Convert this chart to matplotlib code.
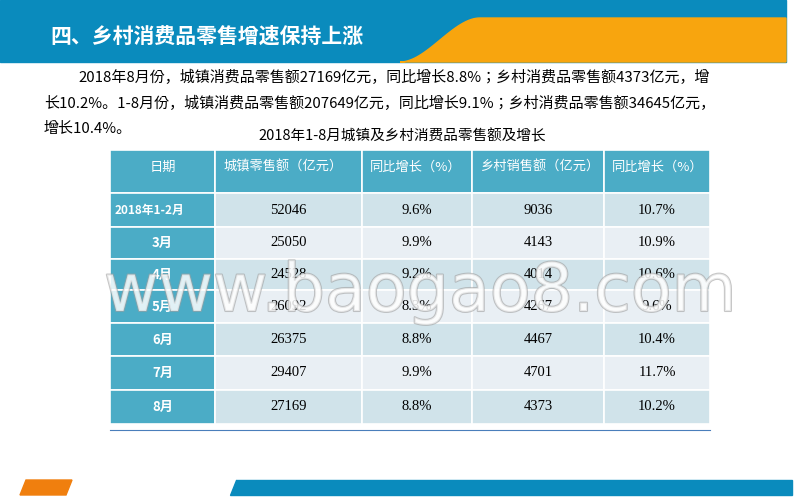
import matplotlib
matplotlib.use("Agg")
import matplotlib.pyplot as plt
from matplotlib.patches import Rectangle, Polygon
import matplotlib.patheffects as pe
import numpy as np

plt.rcParams['font.family'] = 'sans-serif'
plt.rcParams['font.sans-serif'] = ['Noto Sans CJK SC', 'Noto Sans CJK JP', 'Noto Sans CJK TC', 'DejaVu Sans']

title = "四、乡村消费品零售增速保持上涨"
para = ["2018年8月份，城镇消费品零售额27169亿元，同比增长8.8%；乡村消费品零售额4373亿元，增",
        "长10.2%。1-8月份，城镇消费品零售额207649亿元，同比增长9.1%；乡村消费品零售额34645亿元，",
        "增长10.4%。"]
table_title = "2018年1-8月城镇及乡村消费品零售额及增长"
headers = ["日期", "城镇零售额（亿元）", "同比增长（%）", "乡村销售额（亿元）", "同比增长（%）"]
periods = ["2018年1-2月", "3月", "4月", "5月", "6月", "7月", "8月"]
urban = [52046, 25050, 24528, 26092, 26375, 29407, 27169]
urban_growth = [9.6, 9.9, 9.2, 8.3, 8.8, 9.9, 8.8]
rural = [9036, 4143, 4014, 4267, 4467, 4701, 4373]
rural_growth = [10.7, 10.9, 10.6, 9.6, 10.4, 11.7, 10.2]

fig = plt.figure(figsize=(8, 5), dpi=100)
ax = fig.add_axes([0, 0, 1, 1])
ax.set_xlim(0, 800); ax.set_ylim(500, 0); ax.axis('off')

# header band
ax.add_patch(Rectangle((0, 0), 786, 62, color='#0A8BBD', zorder=1))
ts = np.linspace(0, 1, 40)
curve = [(400 + 80 * t, 62 - 44 * (3 * t**2 - 2 * t**3)) for t in ts]
poly = curve + [(786, 18), (786, 62)]
ax.add_patch(Polygon(poly, closed=True, color='#F8A50E', zorder=2))
ax.text(50, 36, title, color='white', fontsize=15, fontweight='bold', va='center', zorder=3)

# paragraph
for i, line in enumerate(para):
    x = 78 if i == 0 else 44
    ax.text(x, 77 + i * 26, line, fontsize=10.8, va='center')
ax.text(402, 136, table_title, fontsize=10.5, va='center', ha='center')

# table
cols = [110, 215, 362, 472, 604, 710]
rows = [150, 193, 227, 259, 290, 323, 356, 390, 424]
teal = '#4BACC6'
for j in range(5):
    ax.add_patch(Rectangle((cols[j], rows[0]), cols[j+1]-cols[j], rows[1]-rows[0],
                           facecolor=teal, edgecolor='white', lw=1.2, zorder=3))
    ax.text(cols[j] + 8 if j else (cols[0]+cols[1])/2, 167, headers[j], color='white', fontsize=9.5,
            ha='left' if j else 'center', va='center', zorder=4)
for i in range(len(periods)):
    y0, y1 = rows[i+1], rows[i+2]
    fc = '#D0E3EA' if i % 2 == 0 else '#E9EFF4'
    ax.add_patch(Rectangle((cols[0], y0), cols[1]-cols[0], y1-y0, facecolor=teal, edgecolor='white', lw=1.2, zorder=3))
    for j in range(1, 5):
        ax.add_patch(Rectangle((cols[j], y0), cols[j+1]-cols[j], y1-y0, facecolor=fc, edgecolor='white', lw=1.2, zorder=3))
    yc = (y0 + y1) / 2
    if i == 0:
        ax.text(cols[0] + 5, yc, periods[i], color='white', fontsize=8.5, fontweight='bold', ha='left', va='center', zorder=4)
    else:
        ax.text((cols[0]+cols[1])/2, yc, periods[i], color='white', fontsize=9.5, fontweight='bold', ha='center', va='center', zorder=4)
    vals = [str(urban[i]), f"{urban_growth[i]:.1f}%", str(rural[i]), f"{rural_growth[i]:.1f}%"]
    for j, v in enumerate(vals):
        ax.text((cols[j+1]+cols[j+2])/2, yc, v, fontsize=10.5, ha='center', va='center',
                family='Liberation Serif', zorder=4)
ax.plot([110, 710], [430, 430], color='#4A7EBB', lw=0.8, zorder=3)

# watermark
ax.text(420, 292, "www.baogao8.com", fontsize=48, color='white', alpha=0.6, ha='center', va='center',
        family='DejaVu Sans', zorder=5,
        path_effects=[pe.withStroke(linewidth=1.5, foreground='#A0A0A0')])

# footer
ax.add_patch(Polygon([(26, 480), (72, 480), (66, 495), (20, 495)], color='#F07F0E', zorder=2))
ax.add_patch(Polygon([(236, 480), (792, 480), (792, 495), (230, 495)], color='#0A8BBD', zorder=2))

fig.savefig("out.png", dpi=100)
